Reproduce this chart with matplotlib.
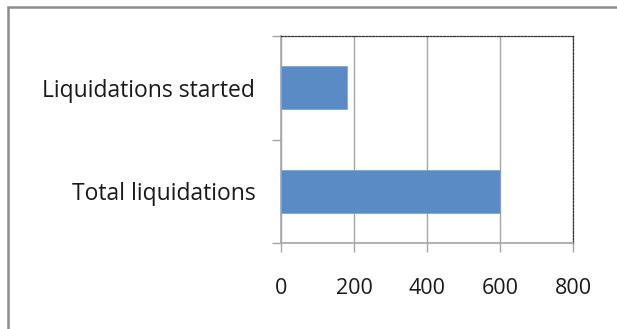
import matplotlib
matplotlib.use("Agg")
import matplotlib.pyplot as plt
from matplotlib.patches import Rectangle

categories = ["Total liquidations", "Liquidations started"]
values = [600, 180]
xticks = [0, 200, 400, 600, 800]

plt.rcParams['font.family'] = ['Open Sans', 'DejaVu Sans']

fig = plt.figure(figsize=(6.17, 3.29), dpi=100)
fig.patch.set_facecolor('white')

# outer frame
fig.patches.append(Rectangle((8/617, -0.1), 1.2, (329-7)/329 + 0.1, transform=fig.transFigure,
                             fill=False, edgecolor='#8c8c8c', linewidth=1.8, zorder=0))

ax = fig.add_axes([281/617, 1-243/329, 292/617, 207/329])
grey = '#a6a6a6'
ax.barh(range(len(categories)), values, height=0.42, color='#5b8bc4', edgecolor='#7fa6d6',
        linewidth=0.6, zorder=3)
ax.set_xlim(0, 800)
ax.set_ylim(-0.5, 1.5)
ax.set_xticks(xticks)
ax.set_xticklabels([str(v) for v in xticks])
ax.set_yticks(range(len(categories)))
ax.set_yticklabels(categories)
ax.set_yticks([-0.5, 0.5, 1.5], minor=True)
ax.tick_params(axis='y', which='major', length=0, pad=18.5, labelsize=16.5, colors='#1a1a1a')
ax.tick_params(axis='y', which='minor', length=6.5, width=1, color=grey)
ax.tick_params(axis='x', which='major', length=6.5, width=1, color=grey, pad=19,
               labelsize=15.5, labelcolor='#1a1a1a')
ax.grid(axis='x', color=grey, linewidth=1, zorder=0)
ax.set_axisbelow(True)
for s in ['left', 'bottom']:
    ax.spines[s].set_color(grey)
    ax.spines[s].set_linewidth(1.2)
for s in ['top', 'right']:
    ax.spines[s].set_color('#333333')
    ax.spines[s].set_linewidth(0.9)
    ax.spines[s].set_linestyle((0, (1.5, 1.2)))

fig.savefig('out.png', dpi=100)
